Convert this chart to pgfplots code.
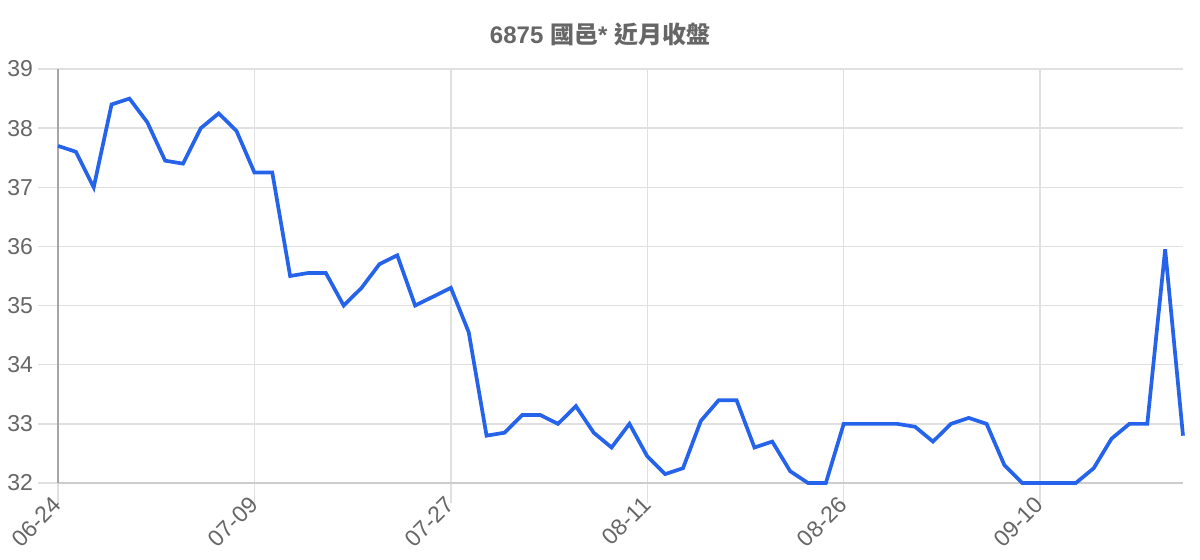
\documentclass[border=0pt]{standalone}
\usepackage{fontspec}
\setmainfont{Liberation Sans}
\newfontfamily\cjk{Noto Sans CJK TC}
\usepackage{pgfplots}
\pgfplotsset{compat=1.18}

\definecolor{linec}{HTML}{2563EB}
\definecolor{txt}{HTML}{666666}
\definecolor{gridc}{HTML}{E0E0E0}
\definecolor{xaxc}{HTML}{CCCCCC}
\definecolor{yaxc}{HTML}{A6A6A6}

\begin{document}
\begin{tikzpicture}
% 1 px of the reference = 0.5pt
\path[use as bounding box] (-29pt,-38.5pt) rectangle (571pt,241.5pt);
\begin{axis}[
    scale only axis,
    width=562.5pt, height=207pt,
    xmin=0, xmax=63,
    ymin=32, ymax=39,
    ytick={32,33,34,35,36,37,38,39},
    xtick={0,11,22,33,44,55},
    xticklabels={06-24,07-09,07-27,08-11,08-26,09-10},
    grid=major,
    major grid style={draw=gridc, line width=0.65pt},
    tick align=outside,
    major tick length=10pt,
    tick style={draw=gridc, line width=0.65pt},
    xtick pos=bottom, ytick pos=left,
    axis x line*=bottom, axis y line*=left,
    x axis line style={-, draw=xaxc, line width=0.7pt},
    y axis line style={-, draw=yaxc, line width=0.7pt},
    /pgf/number format/assume math mode=true,
    ticklabel style={font=\fontsize{11.5}{13}\selectfont, text=txt},
    yticklabel style={xshift=1pt},
    xticklabel style={rotate=45, anchor=east, xshift=4pt, yshift=1pt},
    title={\bfseries 6875 {\cjk 國邑}* {\cjk 近月收盤}},
    title style={at={(0.4818,1.055)}, anchor=center, font=\fontsize{12}{14}\selectfont, text=txt},
    clip=false,
]
\addplot[color=linec, line width=1.85pt, mark=none] table {
x y
0 37.70
1 37.60
2 37.00
3 38.40
4 38.50
5 38.10
6 37.45
7 37.40
8 38.00
9 38.25
10 37.95
11 37.25
12 37.25
13 35.50
14 35.55
15 35.55
16 35.00
17 35.30
18 35.70
19 35.85
20 35.00
21 35.15
22 35.30
23 34.55
24 32.80
25 32.85
26 33.15
27 33.15
28 33.00
29 33.30
30 32.85
31 32.60
32 33.00
33 32.45
34 32.15
35 32.25
36 33.05
37 33.40
38 33.40
39 32.60
40 32.70
41 32.20
42 32.00
43 32.00
44 33.00
45 33.00
46 33.00
47 33.00
48 32.95
49 32.70
50 33.00
51 33.10
52 33.00
53 32.30
54 32.00
55 32.00
56 32.00
57 32.00
58 32.25
59 32.75
60 33.00
61 33.00
62 35.95
63 32.80
};
\end{axis}
\end{tikzpicture}
\end{document}
